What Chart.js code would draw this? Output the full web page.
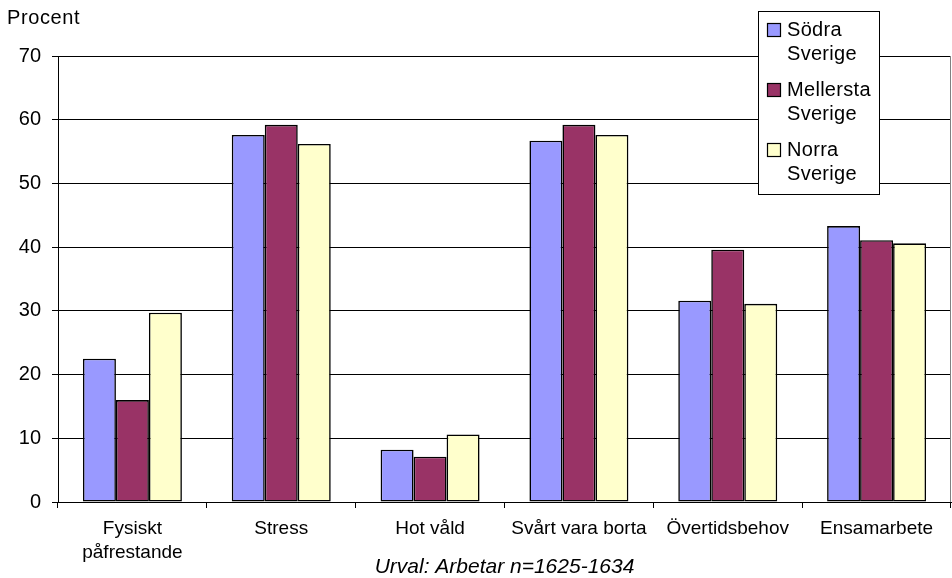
<!DOCTYPE html>
<html>
<head>
<meta charset="utf-8">
<script src="https://cdn.jsdelivr.net/npm/chart.js@4"></script>
<style>
  html, body { margin: 0; padding: 0; background: #fff; }
  #wrap { width: 952px; height: 578px; position: relative; }
</style>
</head>
<body>
<div id="wrap"><canvas id="c" width="952" height="578"></canvas></div>
<script>
// Categories (x axis), multi-line where the label wraps
const categories = [
  ['Fysiskt', 'påfrestande'],
  'Stress',
  'Hot våld',
  'Svårt vara borta',
  'Övertidsbehov',
  'Ensamarbete'
];

// Share (percent) per region
const sodraSverige     = [22.5, 57.6,  8.2, 56.7, 31.6, 43.3];
const mellerstaSverige = [16.0, 59.2,  7.1, 59.2, 39.6, 41.1];
const norraSverige     = [29.7, 56.2, 10.6, 57.6, 31.1, 40.6];

const seriesNames = ['Södra Sverige', 'Mellersta Sverige', 'Norra Sverige'];
const yTicks = [0, 10, 20, 30, 40, 50, 60, 70];

const yAxisLabel = 'Procent';
const xAxisNote = 'Urval: Arbetar n=1625-1634';

const FONT = "'Liberation Sans', Arial, sans-serif";

// Frame: right border of the plot area, unit label and the boxed legend
const framePlugin = {
  id: 'frame',
  afterDraw(chart) {
    const ctx = chart.ctx;
    const a = chart.chartArea;
    ctx.save();
    ctx.strokeStyle = '#808080';
    ctx.lineWidth = 1;
    ctx.beginPath();
    ctx.moveTo(Math.round(a.right) - 0.5, a.top);
    ctx.lineTo(Math.round(a.right) - 0.5, a.bottom);
    ctx.stroke();

    ctx.fillStyle = '#000';
    ctx.font = '20px ' + FONT;
    ctx.letterSpacing = '0.6px';
    ctx.textBaseline = 'alphabetic';
    ctx.textAlign = 'left';
    ctx.fillText(yAxisLabel, 7, 24);

    // legend box
    const bx = 758.5, by = 11.5, bw = 121, bh = 183;
    ctx.fillStyle = '#fff';
    ctx.fillRect(bx, by, bw, bh);
    ctx.strokeStyle = '#000';
    ctx.lineWidth = 1;
    ctx.strokeRect(bx, by, bw, bh);
    chart.data.datasets.forEach((ds, i) => {
      const top = 23 + i * 60;
      ctx.fillStyle = ds.backgroundColor;
      ctx.fillRect(767, top, 14, 14);
      ctx.strokeStyle = '#000';
      ctx.lineWidth = 1.2;
      ctx.strokeRect(767.5, top + 0.5, 13, 13);
      ctx.fillStyle = '#000';
      ctx.font = '20px ' + FONT;
      ctx.letterSpacing = '0.3px';
      const lines = ds.label.split(' ');
      lines.forEach((ln, k) => ctx.fillText(ln, 787, top + 13 + k * 24));
    });
    ctx.restore();
  }
};

new Chart(document.getElementById('c'), {
  type: 'bar',
  data: {
    labels: categories,
    datasets: [
      { label: seriesNames[0], data: sodraSverige,     backgroundColor: '#9999FF' },
      { label: seriesNames[1], data: mellerstaSverige, backgroundColor: '#993366' },
      { label: seriesNames[2], data: norraSverige,     backgroundColor: '#FFFFCC' }
    ].map(d => Object.assign(d, { borderColor: '#000', borderWidth: 1.6, borderSkipped: false }))
  },
  options: {
    responsive: false,
    animation: false,
    devicePixelRatio: 1,
    layout: { padding: { top: 56, right: 1, left: 0, bottom: 0 } },
    datasets: { bar: { categoryPercentage: 0.665, barPercentage: 1 } },
    plugins: { legend: { display: false }, tooltip: { enabled: false } },
    scales: {
      x: {
        grid: { offset: true, drawOnChartArea: false, drawTicks: true, tickLength: 6, color: '#000' },
        border: { color: '#000', width: 1 },
        ticks: { color: '#000', font: { family: FONT, size: 19, lineHeight: 1.3 }, padding: 8, maxRotation: 0, autoSkip: false },
        title: { display: true, text: xAxisNote, color: '#000',
                 font: { family: FONT, size: 21, style: 'italic', lineHeight: 1 }, padding: { top: 0, bottom: 0 } },
        afterFit(scale) { scale.height = 76; }
      },
      y: {
        min: yTicks[0],
        max: yTicks[yTicks.length - 1],
        afterBuildTicks(scale) { scale.ticks = yTicks.map(v => ({ value: v })); },
        grid: { color: '#000', tickLength: 6, tickColor: '#000' },
        border: { color: '#000', width: 1 },
        ticks: { color: '#000', font: { family: FONT, size: 20 }, padding: 11 },
        afterFit(scale) { scale.width = 58; }
      }
    }
  },
  plugins: [framePlugin]
});
</script>
</body>
</html>
